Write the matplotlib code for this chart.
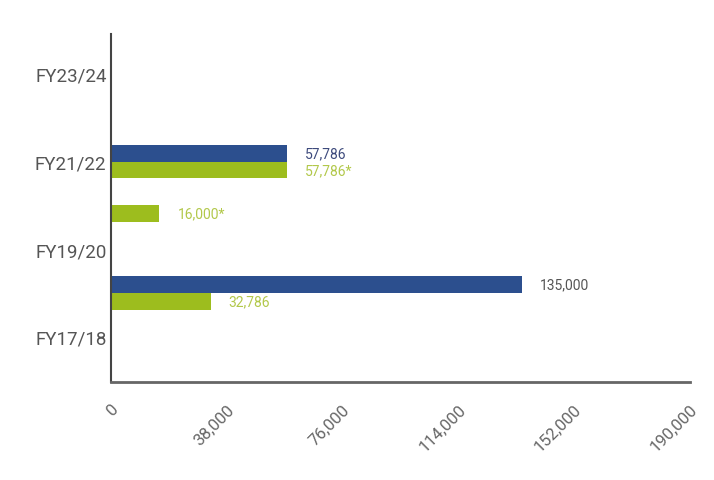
import matplotlib.pyplot as plt
import numpy as np

# categories bottom -> top (only every other one is labelled in the original)
years = ["FY17/18", "FY18/19", "FY19/20", "FY20/21", "FY21/22", "FY22/23", "FY23/24"]
shown = ["FY17/18", "FY19/20", "FY21/22", "FY23/24"]

blue_vals = [0, 135000, 0, 0, 57786, 0, 0]
green_vals = [0, 32786, 0, 16000, 57786, 0, 0]
blue_lbl = ["", "135,000", "", "", "57,786", "", ""]
green_lbl = ["", "32,786", "", "16,000*", "57,786*", "", ""]

xticks = [0, 38000, 76000, 114000, 152000, 190000]

blue = "#2c4f8e"
green = "#9dbd1e"

plt.rcParams["font.family"] = ["Roboto", "DejaVu Sans"]

fig = plt.figure(figsize=(7.14, 4.81), dpi=100)
ax = fig.add_axes([0.155, 0.204, 0.811, 0.723])

y = np.arange(len(years))
h = 0.38
ax.barh(y + h / 2, blue_vals, height=h, color=blue)
ax.barh(y - h / 2, green_vals, height=h, color=green)

for i in range(len(years)):
    if blue_lbl[i]:
        c = "#555555" if blue_vals[i] > 100000 else "#3d4a7c"
        ax.annotate(blue_lbl[i], (blue_vals[i], y[i] + h / 2), xytext=(13, 0),
                    textcoords="offset points", va="center", fontsize=10, color=c)
    if green_lbl[i]:
        ax.annotate(green_lbl[i], (green_vals[i], y[i] - h / 2), xytext=(13, 0),
                    textcoords="offset points", va="center", fontsize=10, color="#b2c84a")

ax.set_xlim(0, 190000)
ax.set_ylim(-1.03, 6.91)
ax.set_yticks([years.index(s) for s in shown])
ax.set_yticklabels(shown, fontsize=13.5, color="#555555")
ax.set_xticks(xticks)
ax.set_xticklabels(["{:,}".format(v) for v in xticks], rotation=45, ha="right",
                   rotation_mode="anchor", fontsize=12, color="#666666")
ax.tick_params(axis="both", length=0)
ax.tick_params(axis="x", pad=14)
ax.tick_params(axis="y", pad=3)

for s in ["top", "right"]:
    ax.spines[s].set_visible(False)
ax.spines["left"].set_color("#444444")
ax.spines["left"].set_linewidth(1.5)
ax.spines["bottom"].set_color("#666666")
ax.spines["bottom"].set_linewidth(2)

fig.savefig("out.png", dpi=100)
